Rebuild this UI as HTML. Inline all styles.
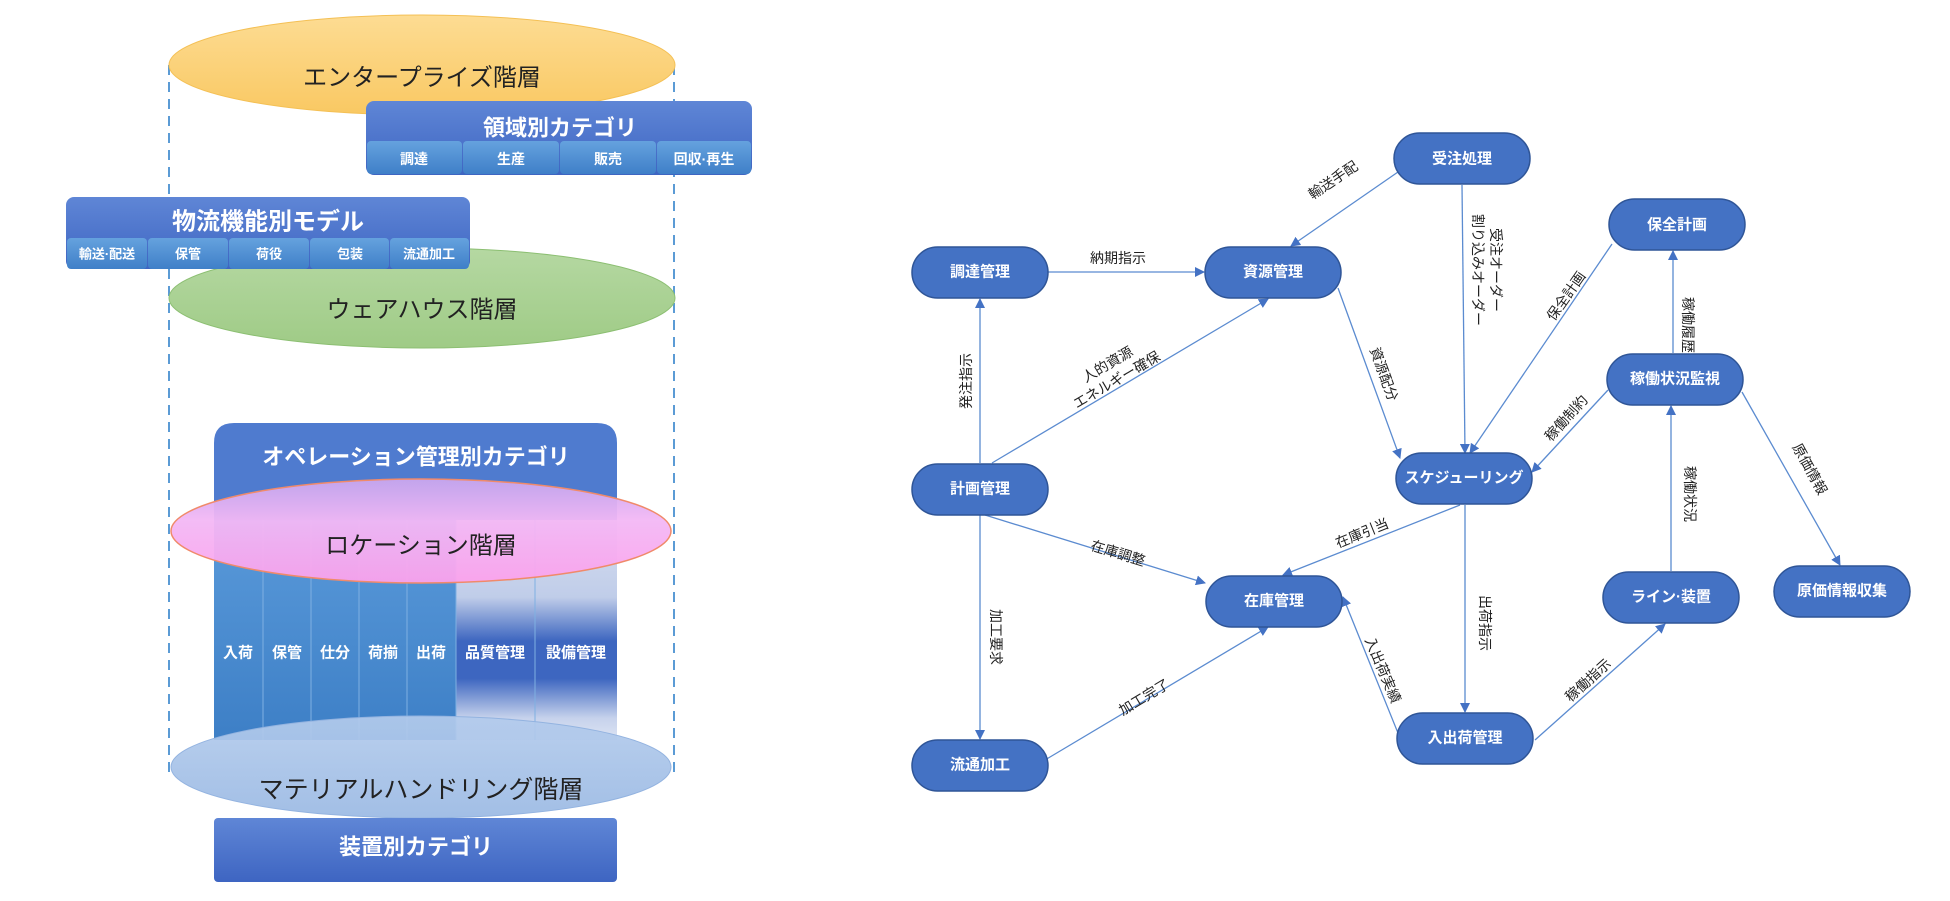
<!DOCTYPE html>
<html><head><meta charset="utf-8"><style>
html,body{margin:0;padding:0;background:#fff;}
svg{display:block;font-family:"Liberation Sans","Noto Sans CJK JP",sans-serif;}
.nt{fill:#fff;font-size:15px;font-weight:bold;text-anchor:middle;dominant-baseline:central;}
.el{fill:#222;font-size:14px;text-anchor:middle;dominant-baseline:central;}
.e{stroke:#5b8bd0;stroke-width:1.3;fill:none;marker-end:url(#ah);}
.n{fill:#4472c4;stroke:#2f5597;stroke-width:1.5;}
.wt{fill:#fff;font-weight:bold;text-anchor:middle;dominant-baseline:central;}
.bt{fill:#222;text-anchor:middle;dominant-baseline:central;}
</style></head><body>
<svg width="1950" height="901" viewBox="0 0 1950 901">
<defs>
<marker id="ah" markerWidth="10" markerHeight="10" refX="9" refY="5" orient="auto" markerUnits="userSpaceOnUse"><path d="M0,0 L10,5 L0,10 z" fill="#4472c4"/></marker>
<linearGradient id="hb" x1="0" y1="0" x2="0" y2="1"><stop offset="0" stop-color="#5f86d6"/><stop offset="1" stop-color="#3e65c2"/></linearGradient>
<linearGradient id="cb" x1="0" y1="0" x2="0" y2="1"><stop offset="0" stop-color="#65a2de"/><stop offset="1" stop-color="#3f7fc8"/></linearGradient>
<linearGradient id="col" x1="0" y1="0" x2="0" y2="1"><stop offset="0" stop-color="#5a9ada"/><stop offset="1" stop-color="#3d7fc6"/></linearGradient>
<linearGradient id="col2" x1="0" y1="0" x2="0" y2="1"><stop offset="0" stop-color="#d6def0"/><stop offset="0.35" stop-color="#c0cde9"/><stop offset="0.55" stop-color="#3d66c0"/><stop offset="0.72" stop-color="#3d66c0"/><stop offset="0.9" stop-color="#c6d2ec"/><stop offset="1" stop-color="#dde4f3"/></linearGradient>
<linearGradient id="pk" x1="0" y1="0" x2="0" y2="1"><stop offset="0" stop-color="#c8a6ee" stop-opacity="0.95"/><stop offset="0.4" stop-color="#f3b8f5" stop-opacity="0.95"/><stop offset="1" stop-color="#fba2ec" stop-opacity="0.95"/></linearGradient>
<linearGradient id="og" x1="0" y1="0" x2="0" y2="1"><stop offset="0" stop-color="#fddc93"/><stop offset="1" stop-color="#f9c862"/></linearGradient>
<linearGradient id="gg" x1="0" y1="0" x2="0" y2="1"><stop offset="0" stop-color="#b5d8a2"/><stop offset="1" stop-color="#9fcb86"/></linearGradient>
<linearGradient id="mh" x1="0" y1="0" x2="0" y2="1"><stop offset="0" stop-color="#b3cbec" stop-opacity="0.92"/><stop offset="1" stop-color="#9dbbe4" stop-opacity="0.95"/></linearGradient>
</defs>

<!-- LEFT DIAGRAM -->
<line x1="169" y1="65" x2="169" y2="772" stroke="#5b9bd5" stroke-width="2" stroke-dasharray="10,7"/>
<line x1="674" y1="65" x2="674" y2="772" stroke="#5b9bd5" stroke-width="2" stroke-dasharray="10,7"/>

<ellipse cx="422" cy="65" rx="253" ry="50" fill="url(#og)" stroke="#f4c055" stroke-width="1"/>
<text x="422" y="78" class="bt" style="font-size:24px">エンタープライズ階層</text>

<!-- 領域別カテゴリ -->
<rect x="366" y="101" width="386" height="74" rx="8" fill="url(#hb)"/>
<text x="560" y="128" class="wt" style="font-size:22px">領域別カテゴリ</text>
<g>
<rect x="367" y="141" width="95" height="33" rx="4" fill="url(#cb)"/>
<rect x="463" y="141" width="96" height="33" rx="4" fill="url(#cb)"/>
<rect x="560" y="141" width="96" height="33" rx="4" fill="url(#cb)"/>
<rect x="657" y="141" width="94" height="33" rx="4" fill="url(#cb)"/>
<text x="414" y="159" class="wt" style="font-size:14px">調達</text>
<text x="511" y="159" class="wt" style="font-size:14px">生産</text>
<text x="608" y="159" class="wt" style="font-size:14px">販売</text>
<text x="704" y="159" class="wt" style="font-size:14px">回収·再生</text>
</g>

<ellipse cx="422" cy="298" rx="253" ry="50" fill="url(#gg)" stroke="#8cbf72" stroke-width="1"/>
<text x="422" y="310" class="bt" style="font-size:24px">ウェアハウス階層</text>

<!-- 物流機能別モデル -->
<rect x="66" y="197" width="404" height="72" rx="8" fill="url(#hb)"/>
<text x="268" y="222" class="wt" style="font-size:24px">物流機能別モデル</text>
<g>
<rect x="67" y="238" width="80" height="31" rx="4" fill="url(#cb)"/>
<rect x="148" y="238" width="80" height="31" rx="4" fill="url(#cb)"/>
<rect x="229" y="238" width="80" height="31" rx="4" fill="url(#cb)"/>
<rect x="310" y="238" width="79" height="31" rx="4" fill="url(#cb)"/>
<rect x="390" y="238" width="79" height="31" rx="4" fill="url(#cb)"/>
<text x="107" y="254" class="wt" style="font-size:13px">輸送·配送</text>
<text x="188" y="254" class="wt" style="font-size:13px">保管</text>
<text x="269" y="254" class="wt" style="font-size:13px">荷役</text>
<text x="350" y="254" class="wt" style="font-size:13px">包装</text>
<text x="429" y="254" class="wt" style="font-size:13px">流通加工</text>
</g>

<!-- Operation box -->
<path d="M214,443 Q214,423 234,423 L597,423 Q617,423 617,443 L617,740 L214,740 Z" fill="#4f7bcf"/>
<text x="416" y="457" class="wt" style="font-size:22px">オペレーション管理別カテゴリ</text>
<rect x="214" y="520" width="242" height="220" fill="url(#col)"/>
<rect x="456" y="520" width="79" height="220" fill="url(#col2)"/>
<rect x="535" y="520" width="82" height="220" fill="url(#col2)"/>
<g stroke="#7fb0e2" stroke-width="1">
<line x1="263" y1="520" x2="263" y2="740"/><line x1="311" y1="520" x2="311" y2="740"/>
<line x1="359" y1="520" x2="359" y2="740"/><line x1="407" y1="520" x2="407" y2="740"/>
<line x1="456" y1="520" x2="456" y2="740"/><line x1="535" y1="520" x2="535" y2="740"/>
</g>
<g style="font-size:15px">
<text x="238" y="653" class="wt">入荷</text>
<text x="287" y="653" class="wt">保管</text>
<text x="335" y="653" class="wt">仕分</text>
<text x="383" y="653" class="wt">荷揃</text>
<text x="431" y="653" class="wt">出荷</text>
<text x="495" y="653" class="wt">品質管理</text>
<text x="576" y="653" class="wt">設備管理</text>
</g>

<ellipse cx="421" cy="531" rx="250" ry="52" fill="url(#pk)" stroke="#f08a6a" stroke-width="1.5"/>
<text x="421" y="546" class="bt" style="font-size:24px">ロケーション階層</text>

<ellipse cx="421" cy="767" rx="250" ry="51" fill="url(#mh)" stroke="#93b3e0" stroke-width="1"/>
<text x="421" y="790" class="bt" style="font-size:25px">マテリアルハンドリング階層</text>

<rect x="214" y="818" width="403" height="64" rx="4" fill="url(#hb)"/>
<text x="416" y="847" class="wt" style="font-size:22px">装置別カテゴリ</text>

<!-- RIGHT DIAGRAM: edges -->
<line class="e" x1="1398" y1="172" x2="1291" y2="246"/>
<line class="e" x1="1048" y1="272" x2="1204" y2="272"/>
<line class="e" x1="980" y1="463" x2="980" y2="299"/>
<line class="e" x1="992" y1="463" x2="1268" y2="299"/>
<line class="e" x1="1338" y1="288" x2="1400" y2="458"/>
<line class="e" x1="1462" y1="185" x2="1465" y2="453"/>
<line class="e" x1="1612" y1="244" x2="1470" y2="453"/>
<line class="e" x1="1673" y1="353" x2="1673" y2="251"/>
<line class="e" x1="1608" y1="390" x2="1532" y2="472"/>
<line class="e" x1="1742" y1="392" x2="1840" y2="565"/>
<line class="e" x1="1460" y1="505" x2="1283" y2="575"/>
<line class="e" x1="985" y1="515" x2="1205" y2="583"/>
<line class="e" x1="980" y1="515" x2="980" y2="739"/>
<line class="e" x1="1045" y1="760" x2="1268" y2="627"/>
<line class="e" x1="1400" y1="738" x2="1343" y2="597"/>
<line class="e" x1="1465" y1="505" x2="1465" y2="712"/>
<line class="e" x1="1535" y1="740" x2="1665" y2="624"/>
<line class="e" x1="1671" y1="571" x2="1671" y2="406"/>

<!-- edge labels -->
<text class="el" transform="translate(1333,180) rotate(-34)">輸送手配</text>
<text class="el" transform="translate(1118,258)">納期指示</text>
<text class="el" transform="translate(966,381) rotate(-90)">発注指示</text>
<text class="el" transform="translate(1112,372) rotate(-30.5)"><tspan x="0" dy="-9">人的資源</tspan><tspan x="0" dy="18">エネルギー確保</tspan></text>
<text class="el" transform="translate(1384,374) rotate(70)">資源配分</text>
<text class="el" transform="translate(1487,270) rotate(90)"><tspan x="0" dy="-9">受注オーダー</tspan><tspan x="0" dy="18">割り込みオーダー</tspan></text>
<text class="el" transform="translate(1566,296) rotate(-55)">保全計画</text>
<text class="el" transform="translate(1688,325) rotate(90)">稼働履歴</text>
<text class="el" transform="translate(1566,418) rotate(-48)">稼働制約</text>
<text class="el" transform="translate(1810,469) rotate(61)">原価情報</text>
<text class="el" transform="translate(1362,533) rotate(-22)">在庫引当</text>
<text class="el" transform="translate(1118,553) rotate(17)">在庫調整</text>
<text class="el" transform="translate(996,637) rotate(90)">加工要求</text>
<text class="el" transform="translate(1144,697) rotate(-31)">加工完了</text>
<text class="el" transform="translate(1383,670) rotate(67)">入出荷実績</text>
<text class="el" transform="translate(1485,623) rotate(90)">出荷指示</text>
<text class="el" transform="translate(1588,680) rotate(-42)">稼働指示</text>
<text class="el" transform="translate(1690,494) rotate(90)">稼働状況</text>

<!-- nodes -->
<g>
<rect class="n" x="1394" y="133" width="136" height="51" rx="25.5"/><text class="nt" x="1462" y="159">受注処理</text>
<rect class="n" x="1609" y="199" width="136" height="51" rx="25.5"/><text class="nt" x="1677" y="225">保全計画</text>
<rect class="n" x="912" y="247" width="136" height="51" rx="25.5"/><text class="nt" x="980" y="272">調達管理</text>
<rect class="n" x="1205" y="247" width="136" height="51" rx="25.5"/><text class="nt" x="1273" y="272">資源管理</text>
<rect class="n" x="1607" y="354" width="136" height="51" rx="25.5"/><text class="nt" x="1675" y="379">稼働状況監視</text>
<rect class="n" x="912" y="464" width="136" height="51" rx="25.5"/><text class="nt" x="980" y="489">計画管理</text>
<rect class="n" x="1396" y="453" width="136" height="51" rx="25.5"/><text class="nt" x="1464" y="478">スケジューリング</text>
<rect class="n" x="1206" y="576" width="136" height="51" rx="25.5"/><text class="nt" x="1274" y="601">在庫管理</text>
<rect class="n" x="1603" y="572" width="136" height="51" rx="25.5"/><text class="nt" x="1671" y="597">ライン·装置</text>
<rect class="n" x="1774" y="566" width="136" height="51" rx="25.5"/><text class="nt" x="1842" y="591">原価情報収集</text>
<rect class="n" x="912" y="740" width="136" height="51" rx="25.5"/><text class="nt" x="980" y="765">流通加工</text>
<rect class="n" x="1397" y="713" width="136" height="51" rx="25.5"/><text class="nt" x="1465" y="738">入出荷管理</text>
</g>
</svg>
</body></html>
